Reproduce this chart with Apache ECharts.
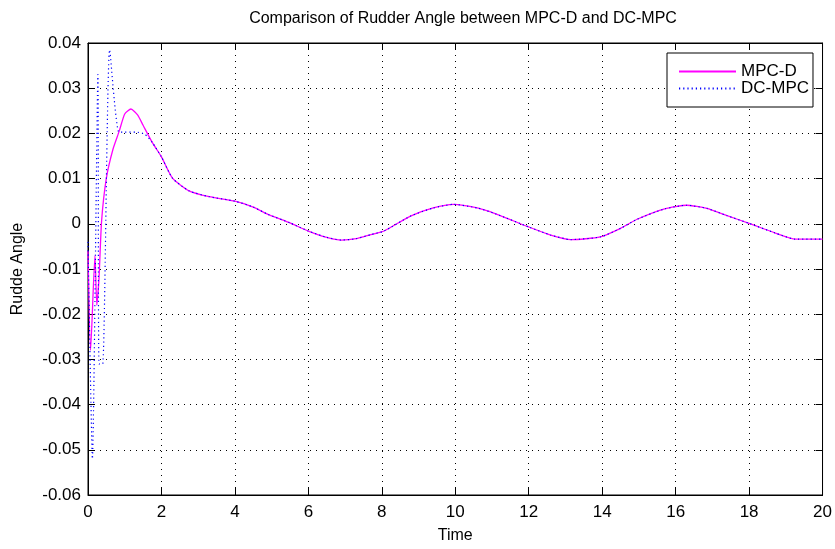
<!DOCTYPE html>
<html>
<head>
<meta charset="utf-8">
<script src="https://cdn.jsdelivr.net/npm/echarts@6/dist/echarts.min.js"></script>
<style>html,body{margin:0;padding:0;background:#fff}#c{width:835px;height:549px}</style>
</head>
<body>
<div id="c"></div>
<script>
var titleText = 'Comparison of Rudder Angle between MPC-D and DC-MPC';
var seriesNames = ['MPC-D', 'DC-MPC'];
var mpcTime = [0, 0.07, 0.19, 0.24, 0.30, 0.37, 0.5, 0.68, 0.85, 1.0, 1.17, 1.35, 1.5, 1.75, 2.0, 2.3, 2.75, 3.3, 4.0, 4.5, 4.9, 5.5, 6.0, 6.5, 6.9, 7.3, 7.7, 8.06, 8.78, 9.4, 9.95, 10.6, 11.1, 12.0, 12.6, 13.15, 13.95, 14.5, 14.95, 15.7, 16.3, 16.85, 17.4, 18.0, 18.7, 19.26, 20];
var mpcValue = [-0.006, -0.028, -0.007, -0.018, -0.012, 0.0006, 0.0101, 0.0165, 0.0205, 0.0243, 0.0254, 0.0241, 0.0218, 0.018, 0.0148, 0.0101, 0.0073, 0.006, 0.005, 0.0037, 0.0021, 0.0002, -0.0016, -0.003, -0.0036, -0.0033, -0.0024, -0.0016, 0.0017, 0.0035, 0.0043, 0.0035, 0.0022, -0.0007, -0.0025, -0.0035, -0.0029, -0.001, 0.001, 0.0033, 0.0041, 0.0034, 0.0018, 0.0001, -0.002, -0.0034, -0.0034];
var dcEarlyTime = [0, 0.12, 0.27, 0.30, 0.40, 0.59, 0.84, 1.0, 1.3, 1.55, 1.75];
var dcEarlyValue = [-0.004, -0.052, 0.033, -0.031, -0.031, 0.0385, 0.0203, 0.0203, 0.0203, 0.0198, 0.018];

function pairs(t, v) { var o = []; for (var i = 0; i < t.length; i++) o.push([t[i], v[i]]); return o; }
var mpcData = pairs(mpcTime, mpcValue);
var dcData = pairs(dcEarlyTime, dcEarlyValue);
for (var i = 0; i < mpcTime.length; i++) if (mpcTime[i] >= 2.0) dcData.push([mpcTime[i], mpcValue[i]]);

var FONT = 'Liberation Sans, Arial, sans-serif';
var chart = echarts.init(document.getElementById('c'), null, {renderer: 'canvas'});
var gridStyle = {show: true, lineStyle: {color: '#000', width: 1, type: [1, 5]}};
chart.setOption({
  backgroundColor: '#fff',
  animation: false,
  title: {text: titleText, left: 458, top: 6, textAlign: 'center',
    textStyle: {fontFamily: FONT, fontSize: 16, fontWeight: 'normal', color: '#000'}},
  legend: {
    left: 667, top: 53, orient: 'vertical',
    backgroundColor: '#fff', borderColor: '#000', borderWidth: 1, borderRadius: 0,
    padding: [10, 4, 10, 11], itemGap: 0, itemWidth: 57, itemHeight: 14,
    itemStyle: {opacity: 0},
    textStyle: {fontFamily: FONT, fontSize: 17, color: '#000'},
    data: seriesNames
  },
  grid: {left: 88, right: 6, top: 43, bottom: 48, show: true, borderColor: '#000', borderWidth: 1},
  xAxis: [{
    type: 'value', min: 0, max: 20, interval: 2, position: 'bottom',
    name: 'Time', nameLocation: 'middle', nameGap: 33,
    nameTextStyle: {fontFamily: FONT, fontSize: 16, color: '#000'},
    axisLine: {show: true, onZero: false, lineStyle: {color: '#000'}},
    axisTick: {show: true, inside: true, length: 7, lineStyle: {color: '#000'}},
    axisLabel: {fontFamily: FONT, fontSize: 17, color: '#000', margin: 9},
    splitLine: gridStyle
  }, {
    type: 'value', min: 0, max: 20, interval: 2, position: 'top',
    axisLine: {show: true, onZero: false, lineStyle: {color: '#000'}},
    axisTick: {show: true, inside: true, length: 7, lineStyle: {color: '#000'}},
    axisLabel: {show: false}, splitLine: {show: false}
  }],
  yAxis: [{
    type: 'value', min: -0.06, max: 0.04, interval: 0.01, position: 'left',
    name: 'Rudde Angle', nameLocation: 'middle', nameGap: 62,
    nameTextStyle: {fontFamily: FONT, fontSize: 16, color: '#000'},
    axisLine: {show: true, onZero: false, lineStyle: {color: '#000'}},
    axisTick: {show: true, inside: true, length: 7, lineStyle: {color: '#000'}},
    axisLabel: {fontFamily: FONT, fontSize: 17, color: '#000', margin: 7,
      formatter: function (v) { var r = Math.round(v * 100) / 100; return r === 0 ? '0' : r.toFixed(2); }},
    splitLine: gridStyle
  }, {
    type: 'value', min: -0.06, max: 0.04, interval: 0.01, position: 'right',
    axisLine: {show: true, onZero: false, lineStyle: {color: '#000'}},
    axisTick: {show: true, inside: true, length: 7, lineStyle: {color: '#000'}},
    axisLabel: {show: false}, splitLine: {show: false}
  }],
  series: [{
    name: seriesNames[0], type: 'line', data: mpcData, showSymbol: false, symbol: 'none', smooth: 0.2,
    lineStyle: {color: '#ff00ff', width: 1.3}, itemStyle: {color: '#ff00ff'}
  }, {
    name: seriesNames[1], type: 'line', data: dcData, showSymbol: false, symbol: 'none', smooth: 0.2,
    lineStyle: {color: '#0000ff', width: 1.2, type: [1.2, 3]}, itemStyle: {color: '#0000ff'}
  }]
});
</script>
</body>
</html>
